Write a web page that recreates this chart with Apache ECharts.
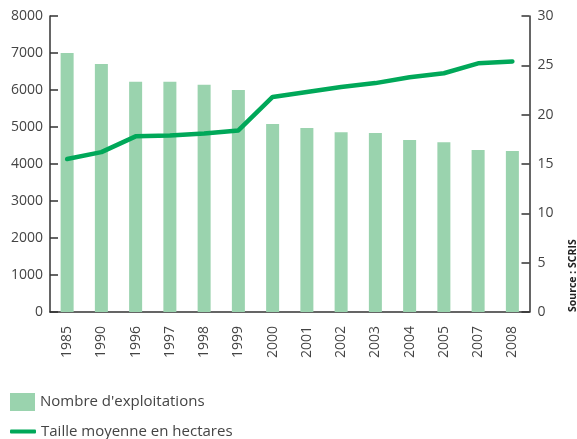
<!DOCTYPE html>
<html>
<head>
<meta charset="utf-8">
<script src="https://cdn.jsdelivr.net/npm/echarts@6/dist/echarts.min.js"></script>
<style>
  html, body { margin: 0; padding: 0; background: #fff; }
  #chart { width: 577px; height: 439px; }
</style>
</head>
<body>
<div id="chart"></div>
<script>
const years = ['1985', '1990', '1996', '1997', '1998', '1999', '2000', '2001', '2002', '2003', '2004', '2005', '2007', '2008']
const exploitations = [7000, 6700, 6220, 6220, 6140, 6000, 5080, 4970, 4860, 4840, 4650, 4590, 4380, 4350]
const tailleMoyenne = [15.5, 16.2, 17.8, 17.9, 18.1, 18.4, 21.8, 22.3, 22.8, 23.2, 23.8, 24.2, 25.2, 25.4]

const textColor = '#444'
const axisColor = '#333'
const font = 'Open Sans'
const barColor = '#9ad3ae'
const lineColor = '#00a859'

const myChart = echarts.init(document.getElementById('chart'))
const option = {
  animation: false,
  textStyle: { fontFamily: font },
  grid: { left: 50, right: 47.5, top: 16, bottom: 127 },
  legend: [
    {
      left: 5,
      top: 388,
      itemWidth: 25,
      itemHeight: 18,
      itemGap: 7,
      textStyle: { color: textColor, fontSize: 15, fontFamily: font },
      data: [{ name: "Nombre d'exploitations", icon: 'rect' }]
    },
    {
      left: 5,
      top: 419,
      itemWidth: 26,
      itemHeight: 4,
      textStyle: { color: textColor, fontSize: 15, fontFamily: font },
      data: [{ name: 'Taille moyenne en hectares', icon: 'roundRect' }]
    }
  ],
  xAxis: {
    type: 'category',
    data: years,
    axisLine: { lineStyle: { color: axisColor, width: 1.5 } },
    axisTick: { show: false },
    axisLabel: { rotate: 90, margin: 14, color: textColor, fontSize: 14, fontFamily: font }
  },
  yAxis: [
    {
      type: 'value',
      min: 0,
      max: 8000,
      interval: 1000,
      splitLine: { show: false },
      axisLine: { show: true, lineStyle: { color: axisColor, width: 1.5 } },
      axisTick: { show: true, inside: true, length: 8, lineStyle: { color: axisColor, width: 1.5 } },
      axisLabel: {
        margin: 7, color: textColor, fontSize: 14, fontFamily: font, padding: [7, 0, 0, 0],
        formatter: v => String(v)
      }
    },
    {
      type: 'value',
      min: 0,
      max: 30,
      interval: 5,
      position: 'right',
      splitLine: { show: false },
      axisLine: { show: true, lineStyle: { color: axisColor, width: 1.5 } },
      axisTick: { show: true, inside: true, length: 8, lineStyle: { color: axisColor, width: 1.5 } },
      axisLabel: { margin: 8, color: textColor, fontSize: 14, fontFamily: font, padding: [7, 0, 0, 0] }
    }
  ],
  series: [
    {
      name: "Nombre d'exploitations",
      type: 'bar',
      data: exploitations,
      barWidth: 13,
      itemStyle: { color: barColor }
    },
    {
      name: 'Taille moyenne en hectares',
      type: 'line',
      yAxisIndex: 1,
      data: tailleMoyenne,
      symbol: 'none',
      lineStyle: { color: lineColor, width: 4.5, cap: 'round', join: 'round' },
      itemStyle: { color: lineColor }
    }
  ],
  graphic: [
    {
      type: 'text',
      x: 573,
      y: 312,
      rotation: Math.PI / 2,
      style: {
        text: 'Source : SCRIS',
        fontSize: 10.5,
        fontWeight: 'bold',
        fontFamily: font,
        fill: '#222',
        align: 'left',
        verticalAlign: 'middle'
      }
    }
  ]
}
myChart.setOption(option)
</script>
</body>
</html>
